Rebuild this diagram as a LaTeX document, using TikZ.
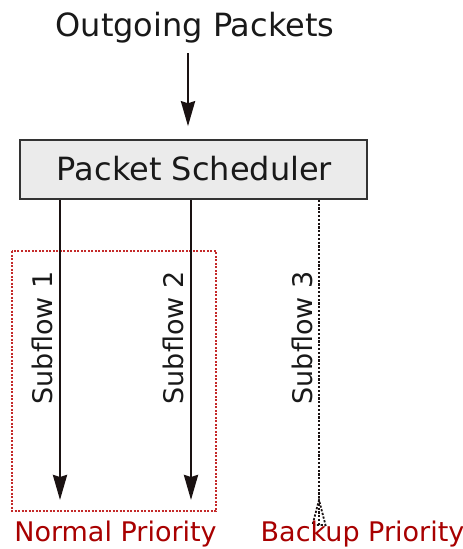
\documentclass[tikz,border=0pt]{standalone}
\usepackage{fontspec}
\setmainfont{DejaVu Sans}
\usetikzlibrary{arrows.meta}
\definecolor{prio}{HTML}{A80000}
\definecolor{grouprule}{HTML}{C42A2A}
\definecolor{boxfill}{HTML}{EBEBEB}
\definecolor{ink}{HTML}{1A1212}
\tikzset{
  big/.style={font=\fontsize{32}{36}\selectfont, text=black!90, inner sep=0pt},
  small/.style={font=\fontsize{27}{30}\selectfont, inner sep=0pt},
  flowlabel/.style={small, text=black!90, rotate=90, anchor=base},
  priolabel/.style={small, text=prio, anchor=base},
  schedbox/.style={draw=black!80, line width=1.5pt, fill=boxfill, minimum width=347pt, minimum height=59pt, inner sep=0pt},
  arr/.style={draw=ink, line width=2.7pt, -{Stealth[length=25pt,width=14pt,inset=2pt]}},
  backup/.style={draw=ink, line width=2.3pt, dash pattern=on 2.2pt off 1.6pt},
  group/.style={draw=grouprule, line width=2pt, dash pattern=on 2pt off 1.5pt}
}
\begin{document}
\begin{tikzpicture}[x=1pt,y=-1pt]
  \useasboundingbox (0,0) rectangle (463,549);

  % input and scheduler
  \node[big, anchor=base] (out) at (195,36) {Outgoing Packets};
  \node[schedbox] (sched) at (193.5,169.5) {};
  \node[big, anchor=base] (schedtext) at (194.5,180) {Packet Scheduler};
  \coordinate (inTop) at (188,53);
  \draw[arr, shorten >=13pt] (inTop) -- (inTop |- sched.north);

  % subflow end points
  \coordinate (f1) at (60,500);
  \coordinate (f2) at (191,500);
  \coordinate (f3) at (319,500);

  % normal priority group
  \draw[group] (12,251) rectangle (216,511);

  \draw[arr] (f1 |- sched.south) -- (f1);
  \draw[arr] (f2 |- sched.south) -- (f2);

  % backup subflow with a dotted open head
  \draw[backup] (f3 |- sched.south) -- ([yshift=-25pt]f3);
  \draw[backup, line width=1.8pt] ([yshift=-25pt]f3) -- ++(-6.5,0) -- (f3) -- ([xshift=6.5pt,yshift=-25pt]f3) -- cycle;

  \node[flowlabel] (l1) at (52,338) {Subflow 1};
  \node[flowlabel] (l2) at (183,338) {Subflow 2};
  \node[flowlabel] (l3) at (312,338) {Subflow 3};

  \node[priolabel] (normal) at (115.5,541.5) {Normal Priority};
  \node[priolabel] (backupl) at (362.5,541.5) {Backup Priority};
\end{tikzpicture}
\end{document}
